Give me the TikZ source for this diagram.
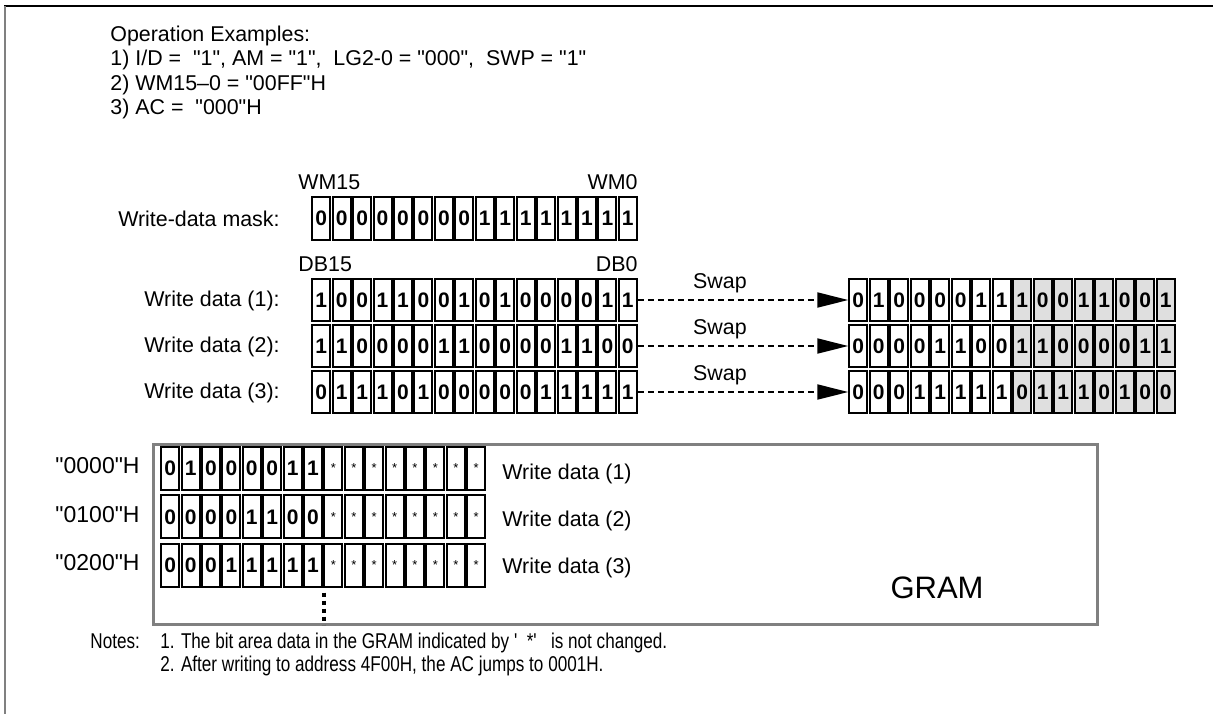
\documentclass[tikz,border=0pt]{standalone}
\usepackage{fontspec}
\newfontfamily\arial{Liberation Sans}
\newfontfamily\narrowfont[FakeStretch=0.8]{Liberation Sans}
\usetikzlibrary{arrows.meta}

\tikzset{
  bit/.style={draw, line width=1pt, inner sep=0pt, minimum width=9pt,
    minimum height=21pt, font=\arial\bfseries\fontsize{10.5}{10.5}\selectfont},
  swapped/.style={bit, fill=gray!25},
  kept/.style={bit, minimum height=21.5pt, font=\arial\fontsize{6.5}{6.5}\selectfont},
  lbl/.style={inner sep=0pt, font=\arial\fontsize{10.7}{12}\selectfont},
  swapline/.style={line width=1pt, dash pattern=on 3pt off 2pt,
    -{Triangle[length=15.5pt,width=7.5pt]}}
}

\begin{document}
\begin{tikzpicture}[x=0.5pt,y=-0.5pt]
  \useasboundingbox (0,0) rectangle (1218,714);
  \draw[line width=1pt] (4,6) -- (1213,6);
  \draw[gray,line width=1pt] (5,6) -- (5,714);

  \node[lbl,anchor=base west] (ops0) at (110,41) {Operation Examples:};
  \node[lbl,anchor=base west] (ops1) at (110,65.5) {1) I/D = \ "1", AM = "1", \ LG2-0 = "000", \ SWP = "1"};
  \node[lbl,anchor=base west] (ops2) at (110,90) {2) WM15–0 = "00FF"H};
  \node[lbl,anchor=base west] (ops3) at (110,114.5) {3) AC = \ "000"H};

  % write-data mask
  \node[lbl,anchor=base west] (wmhi) at (298,189) {WM15};
  \node[lbl,anchor=base east] (wmlo) at (638,189) {WM0};
  \node[lbl,anchor=east] (masklbl) at (280,218.5) {Write-data mask:};
  \foreach \b [count=\i] in {0,0,0,0,0,0,0,0,1,1,1,1,1,1,1,1}
    \node[bit,minimum height=21.5pt] (wm\i) at ({311+20.44*(\i-0.5)},218.5) {\b};

  % write data and swapped data
  \node[lbl,anchor=base west] (dbhi) at (298,271) {DB15};
  \node[lbl,anchor=base east] (dblo) at (638,271) {DB0};
  \foreach \bits [count=\r] in {{1,0,0,1,1,0,0,1,0,1,0,0,0,0,1,1},
      {1,1,0,0,0,0,1,1,0,0,0,0,1,1,0,0},{0,1,1,1,0,1,0,0,0,0,0,1,1,1,1,1}} {
    \node[lbl,anchor=east] (wd\r) at (280,{255+46*\r}) {Write data (\r):};
    \foreach \b [count=\i] in \bits
      \node[bit] (db\r-\i) at ({311+20.44*(\i-0.5)},{254+46*\r}) {\b};
  }
  \foreach \bits [count=\r] in {{0,1,0,0,0,0,1,1,1,0,0,1,1,0,0,1},
      {0,0,0,0,1,1,0,0,1,1,0,0,0,0,1,1},{0,0,0,1,1,1,1,1,0,1,1,1,0,1,0,0}} {
    \foreach \b [count=\i] in \bits {
      \ifnum\i>8 \def\cellsty{swapped}\else\def\cellsty{bit}\fi
      \node[\cellsty] (sw\r-\i) at ({848+20.5*(\i-0.5)},{254+46*\r}) {\b};
    }
    \draw[swapline] (db\r-16.east) -- (sw\r-1.west)
      node[lbl,pos=0.39,above=3pt] (swap\r) {Swap};
  }

  % GRAM
  \draw[draw=gray,line width=1.5pt] (153,444) rectangle (1097,624);
  \node[inner sep=0pt,font=\arial\fontsize{15.5}{15.5}\selectfont] (gram) at (937,588) {GRAM};
  \foreach \bits/\addr [count=\r] in {{0,1,0,0,0,0,1,1}/0000,{0,0,0,0,1,1,0,0}/0100,{0,0,0,1,1,1,1,1}/0200} {
    \node[lbl,anchor=east,font=\arial\fontsize{11.5}{12}\selectfont] (addr\r) at (140,{466+48.3*(\r-1)}) {"\addr"H};
    \node[lbl,anchor=west] (gd\r) at (502,{474+47*(\r-1)}) {Write data (\r)};
    \foreach \b [count=\i] in \bits
      \node[bit,minimum height=21.5pt] (gr\r-\i) at ({160+20.4*(\i-0.5)},{468.5+48.3*(\r-1)}) {\b};
    \foreach \i in {9,...,16}
      \node[kept] (gr\r-\i) at ({160+20.4*(\i-0.5)},{468.5+48.3*(\r-1)}) {*};
  }
  \draw[line width=2.2pt,dash pattern=on 2pt off 2pt] (gr3-8.south east) ++(1,5) -- ++(0,32);

  % notes
  \node[lbl,anchor=base west] (notes) at (90,648) {\narrowfont Notes:};
  \node[lbl,anchor=base west] (note1) at (160,648) {\narrowfont 1. The bit area data in the GRAM indicated by ' \ *' \ \ is not changed.};
  \node[lbl,anchor=base west] (note2) at (160,671) {\narrowfont 2. After writing to address 4F00H, the AC jumps to 0001H.};
\end{tikzpicture}
\end{document}
